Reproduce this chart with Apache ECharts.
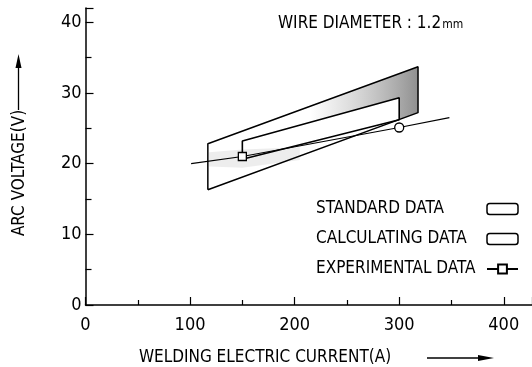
<!DOCTYPE html>
<html><head><meta charset="utf-8">
<script src="https://cdn.jsdelivr.net/npm/echarts@6/dist/echarts.min.js"></script>
<style>html,body{margin:0;padding:0;background:#fff}#c{width:532px;height:367px}</style>
</head><body><div id="c"></div>
<script>
const FONT = "'Liberation Sans Narrow','DejaVu Sans Condensed',sans-serif";
// tick labels
const xTickLabels = [0, 100, 200, 300, 400];
const yTickLabels = [0, 10, 20, 30, 40];
// series (current A, voltage V)
const standardData = [[117, 16.3], [117, 22.8], [318, 33.7], [318, 27.2], [117, 16.3]];
const calculatingData = [[150, 21.5], [150, 23.2], [300, 29.3], [300, 26.2], [150, 20.6]];
const experimentalX = [101, 150, 300, 348];
const experimentalY = [20.0, 21.0, 25.1, 26.5];
const experimentalMarkers = ['none', 'rect', 'circle', 'none'];
// shaded (dithered) areas in the original figure
const shadeDark = [[215, 28.1], [318, 33.7], [318, 27.2], [300, 26.2], [300, 29.3], [215, 25.8]];
const shadeLight = [[118, 19.6], [118, 21.6], [150, 22.0], [205, 22.3], [205, 20.5], [150, 19.4]];

const chart = echarts.init(document.getElementById('c'), null, {renderer: 'canvas'});

function polygonSeries(points, fill) {
  return {
    type: 'custom', silent: true, z: 1,
    data: [0],
    renderItem: function (params, api) {
      const pts = points.map(p => api.coord(p));
      return {type: 'polygon', shape: {points: pts}, style: {fill: fill, stroke: null}};
    }
  };
}

const boxStyle = {color: '#fff', borderColor: '#000', borderWidth: 1.5};

chart.setOption({
  animation: false,
  backgroundColor: '#fff',
  grid: {left: 85.5, right: 0, top: 8, bottom: 62},
  title: {
    left: 273, top: 10,
    text: '{a|WIRE DIAMETER : 1.2}{b|mm}',
    textStyle: {
      fontWeight: 'normal',
      rich: {
        a: {fontFamily: FONT, fontSize: 17, fontWeight: 'normal', color: '#000'},
        b: {fontFamily: FONT, fontSize: 12, fontWeight: 'normal', color: '#000', padding: [3, 0, 0, 1]}
      }
    }
  },
  legend: {
    orient: 'vertical', left: 311, top: 194, align: 'right',
    itemWidth: 31, itemHeight: 11, itemGap: 10,
    formatter: name => '{t|' + name + '}',
    textStyle: {
      color: '#000', lineHeight: 20,
      rich: {t: {width: 166, align: 'left', fontFamily: FONT, fontSize: 17, color: '#000'}}
    },
    data: [
      {name: 'STANDARD DATA', icon: 'roundRect', itemStyle: boxStyle},
      {name: 'CALCULATING DATA', icon: 'roundRect', itemStyle: boxStyle},
      {name: 'EXPERIMENTAL DATA'}
    ]
  },
  xAxis: {
    type: 'value', min: 0, max: 427, interval: 100,
    axisLine: {lineStyle: {color: '#000', width: 1.5}},
    axisTick: {inside: true, length: 8, lineStyle: {color: '#000', width: 1.2}},
    minorTick: {show: true, splitNumber: 2, length: 5, lineStyle: {color: '#000', width: 1.2}},
    splitLine: {show: false},
    axisLabel: {
      margin: 11, color: '#000', fontFamily: FONT, fontSize: 18,
      showMaxLabel: false,
      formatter: v => (xTickLabels.indexOf(v) >= 0 ? String(v) : '')
    }
  },
  yAxis: {
    type: 'value', min: 0, max: 42, interval: 10,
    axisLine: {show: true, lineStyle: {color: '#000', width: 1.5}},
    axisTick: {show: true, inside: true, length: 8, lineStyle: {color: '#000', width: 1.2}},
    minorTick: {show: true, splitNumber: 2, length: 6, lineStyle: {color: '#000', width: 1.2}},
    splitLine: {show: false},
    axisLabel: {
      margin: 4, color: '#000', fontFamily: FONT, fontSize: 18,
      showMaxLabel: false,
      formatter: v => (yTickLabels.indexOf(v) >= 0 ? String(v) : '')
    }
  },
  series: [
    polygonSeries(shadeLight, 'rgba(0,0,0,0.07)'),
    polygonSeries(shadeDark, new echarts.graphic.LinearGradient(0, 0, 1, 0, [
      {offset: 0, color: 'rgba(110,110,110,0)'},
      {offset: 0.4, color: 'rgba(110,110,110,0.25)'},
      {offset: 1, color: 'rgba(70,70,70,0.6)'}
    ])),
    {
      name: 'STANDARD DATA', type: 'line', z: 3,
      data: standardData, symbol: 'none',
      lineStyle: {color: '#000', width: 1.5},
      itemStyle: {color: '#000'}
    },
    {
      name: 'CALCULATING DATA', type: 'line', z: 3,
      data: calculatingData, symbol: 'none',
      lineStyle: {color: '#000', width: 1.6},
      itemStyle: {color: '#000'}
    },
    {
      name: 'EXPERIMENTAL DATA', type: 'line', z: 4,
      symbol: 'rect', symbolSize: 8, showSymbol: true,
      data: experimentalX.map((x, i) => ({
        value: [x, experimentalY[i]],
        symbol: experimentalMarkers[i], symbolSize: experimentalMarkers[i] === 'circle' ? 9 : 8
      })),
      lineStyle: {color: '#000', width: 1.2},
      itemStyle: {color: '#fff', borderColor: '#000', borderWidth: 1.3}
    }
  ],
  graphic: [
    {type: 'text', x: 20, y: 173, rotation: Math.PI / 2,
      style: {text: 'ARC VOLTAGE(V)', fontFamily: FONT, fontSize: 17, fill: '#000', align: 'center', verticalAlign: 'middle'}},
    {type: 'line', shape: {x1: 18.5, y1: 110, x2: 18.5, y2: 66}, style: {stroke: '#000', lineWidth: 1.3}},
    {type: 'polygon', shape: {points: [[18.5, 54], [15.5, 68], [21.5, 68]]}, style: {fill: '#000'}},
    {type: 'text', x: 265, y: 358,
      style: {text: 'WELDING ELECTRIC CURRENT(A)', fontFamily: FONT, fontSize: 17, fill: '#000', align: 'center', verticalAlign: 'middle'}},
    {type: 'line', shape: {x1: 427, y1: 358, x2: 480, y2: 358}, style: {stroke: '#000', lineWidth: 1.3}},
    {type: 'polygon', shape: {points: [[494, 358], [478, 355], [478, 361]]}, style: {fill: '#000'}}
  ]
});
</script></body></html>
